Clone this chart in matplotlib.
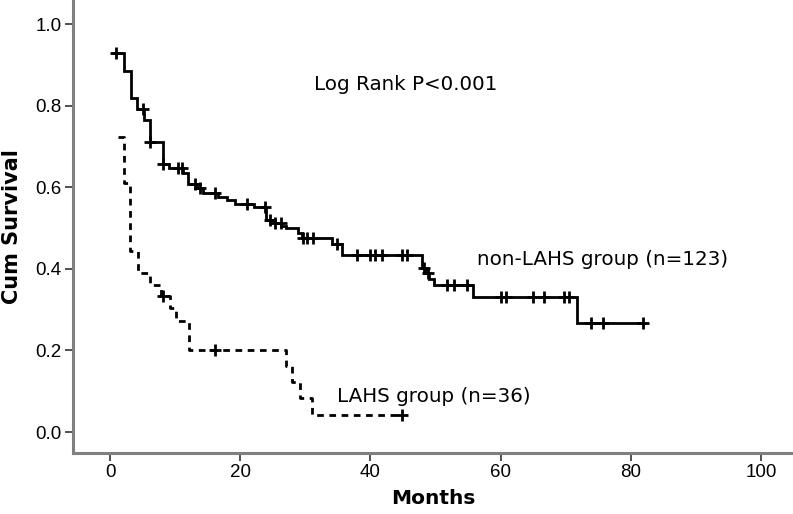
import numpy as np
import matplotlib
matplotlib.use("Agg")
import matplotlib.pyplot as plt

plt.rcParams['font.family'] = ['Liberation Sans', 'DejaVu Sans']

# non-LAHS group, step times (months) and survival after each step
non_times = [0.4, 2.1, 3.2, 4.2, 5.2, 6.2, 8.1, 9.1, 11.2, 12.0, 13.3, 14.2, 16.6, 17.9,
             19.2, 22.1, 24.0, 25.3, 26.3, 27.1, 28.9, 29.5, 34.1, 35.6, 47.9, 48.5,
             49.0, 49.7, 55.8, 71.7]
non_surv = [0.928, 0.886, 0.820, 0.793, 0.765, 0.711, 0.658, 0.646, 0.634, 0.609, 0.597,
            0.585, 0.577, 0.569, 0.560, 0.552, 0.520, 0.513, 0.506, 0.499, 0.487, 0.475,
            0.462, 0.434, 0.401, 0.390, 0.375, 0.360, 0.332, 0.268]
non_end = 81.8
non_censor = [0.9, 5.0, 6.2, 8.1, 10.5, 11.0, 13.0, 13.8, 16.1, 21.1, 23.8, 24.6, 25.4, 26.2,
              29.7, 30.2, 31.1, 34.8, 37.9, 40.0, 40.7, 41.8, 44.8, 45.6, 48.2, 48.8,
              51.8, 52.8, 54.9, 60.0, 60.8, 64.9, 66.7, 69.8, 70.5, 73.9, 75.7, 81.8]

# LAHS group
lahs_times = [1.2, 2.1, 3.1, 4.3, 6.2, 7.8, 9.2, 10.2, 12.2, 27.0, 28.0, 29.1, 31.0]
lahs_surv = [0.722, 0.611, 0.444, 0.389, 0.361, 0.334, 0.303, 0.273, 0.201, 0.163,
             0.122, 0.083, 0.042]
lahs_end = 44.8
lahs_censor = [8.1, 16.1, 44.8]

x_ticks = [0, 20, 40, 60, 80, 100]
y_ticks = [0.0, 0.2, 0.4, 0.6, 0.8, 1.0]


def surv_at(times, surv, t):
    i = np.searchsorted(times, t, side='right') - 1
    return np.array(surv)[np.clip(i, 0, len(surv) - 1)]


fig = plt.figure(figsize=(7.93, 5.14), dpi=100)
ax = fig.add_axes([0.092, 0.119, 0.908, 0.881])

# solid curve
ax.step(non_times + [non_end], non_surv + [non_surv[-1]], where='post',
        color='black', lw=2.0, solid_joinstyle='miter')
ax.plot(non_censor, surv_at(non_times, non_surv, non_censor), ls='none',
        marker='+', ms=8, mew=2.0, color='black')

# dashed curve
ax.step(lahs_times + [lahs_end], lahs_surv + [lahs_surv[-1]], where='post',
        color='black', lw=2.0, dashes=(2.4, 2.0))
ax.plot(lahs_censor, surv_at(lahs_times, lahs_surv, lahs_censor), ls='none',
        marker='+', ms=8, mew=2.0, color='black')

wide = ['DejaVu Sans']
ax.text(31.4, 0.853, 'Log Rank P<0.001', fontsize=14.3, family=wide, va='center', ha='left')
ax.text(56.4, 0.424, 'non-LAHS group (n=123)', fontsize=14.3, family=wide, va='center', ha='left')
ax.text(34.8, 0.086, 'LAHS group (n=36)', fontsize=14.3, family=wide, va='center', ha='left')

ax.set_xlim(-5.7, 104.9)
ax.set_ylim(-0.051, 1.059)
ax.set_xticks(x_ticks)
ax.set_xticklabels([str(t) for t in x_ticks])
ax.set_yticks(y_ticks)
ax.set_yticklabels(['%.1f' % t for t in y_ticks])

for s in ['top', 'right']:
    ax.spines[s].set_visible(False)
for s in ['left', 'bottom']:
    ax.spines[s].set_color('#808080')
    ax.spines[s].set_linewidth(2.2)

ax.tick_params(axis='both', direction='out', length=6, width=1.2, color='#333333',
               labelsize=13.5, pad=2)
ax.set_xlabel('Months', fontsize=14.5, fontweight='bold', family=wide, labelpad=6)
ax.set_ylabel('Cum Survival', fontsize=15, fontweight='bold', family=wide)
ax.yaxis.set_label_coords(-0.071, 0.5)

fig.savefig('out.png', dpi=100)
